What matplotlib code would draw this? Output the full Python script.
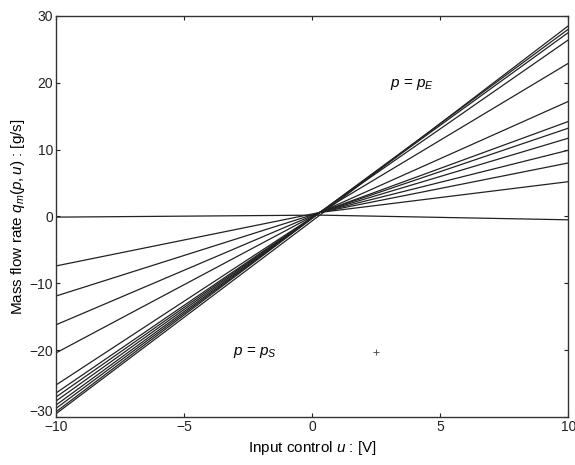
import numpy as np
import matplotlib.pyplot as plt
import matplotlib.transforms as mtransforms

plt.rcParams['font.family'] = ['Liberation Sans', 'DejaVu Sans']
plt.rcParams['mathtext.fontset'] = 'custom'
plt.rcParams['mathtext.it'] = 'Liberation Sans:italic'
plt.rcParams['mathtext.rm'] = 'Liberation Sans'

# flow at u = -10 V, at the crossing, and at u = +10 V, one entry per pressure level (pE -> pS)
u_pts = [-10.0, 0.3, 10.0]
q_left = [-0.1, -7.4, -11.9, -16.2, -20.4, -25.2, -26.4, -27.0, -27.6, -28.2, -28.7, -29.2, -29.5]
q_mid = [0.2, 0.6, 0.6, 0.6, 0.6, 0.6, 0.6, 0.6, 0.6, 0.6, 0.6, 0.6, 0.2]
q_right = [28.5, 28.0, 27.5, 26.4, 22.9, 17.2, 14.2, 13.2, 11.7, 9.9, 8.0, 5.2, -0.5]

x_ticks = [-10, -5, 0, 5, 10]
y_ticks = [-30, -20, -10, 0, 10, 20, 30]


def main():
    fig = plt.figure(figsize=(5.75, 4.65), dpi=100)
    ax = fig.add_axes([0.0974, 0.103, 0.891, 0.863])

    for ql, qm, qr in zip(q_left, q_mid, q_right):
        ax.plot(u_pts, [ql, qm, qr], color='#222222', lw=0.9)

    ax.set_xlim(-10, 10)
    ax.set_ylim(-30, 30)
    ax.set_xticks(x_ticks)
    ax.set_yticks(y_ticks)
    ax.tick_params(direction='in', length=3, labelsize=10, colors='#222222',
                   top=True, right=True, pad=2)
    for s in ax.spines.values():
        s.set_color('#333333')
        s.set_linewidth(1.0)

    # -30 sits just above the -10 of the x axis, as in the original
    fig.canvas.draw()
    lab = ax.get_yticklabels()[0]
    lab.set_transform(lab.get_transform() +
                      mtransforms.ScaledTranslation(0, 5 / 72, fig.dpi_scale_trans))

    ax.text(3.05, 19.7, r'$p$ = $p_E$', fontsize=11, va='center')
    ax.text(-3.1, -20.3, r'$p$ = $p_S$', fontsize=11, va='center')
    ax.plot([2.5], [-20.2], marker='+', color='#555555', ms=4, mew=0.7)

    ax.set_xlabel(r'Input control $u$ : [V]', fontsize=11, labelpad=4)
    ax.set_ylabel(r'Mass flow rate $q_m(p,u)$ : [g/s]', fontsize=11, labelpad=2)

    fig.savefig('out.png', dpi=100)


main()
